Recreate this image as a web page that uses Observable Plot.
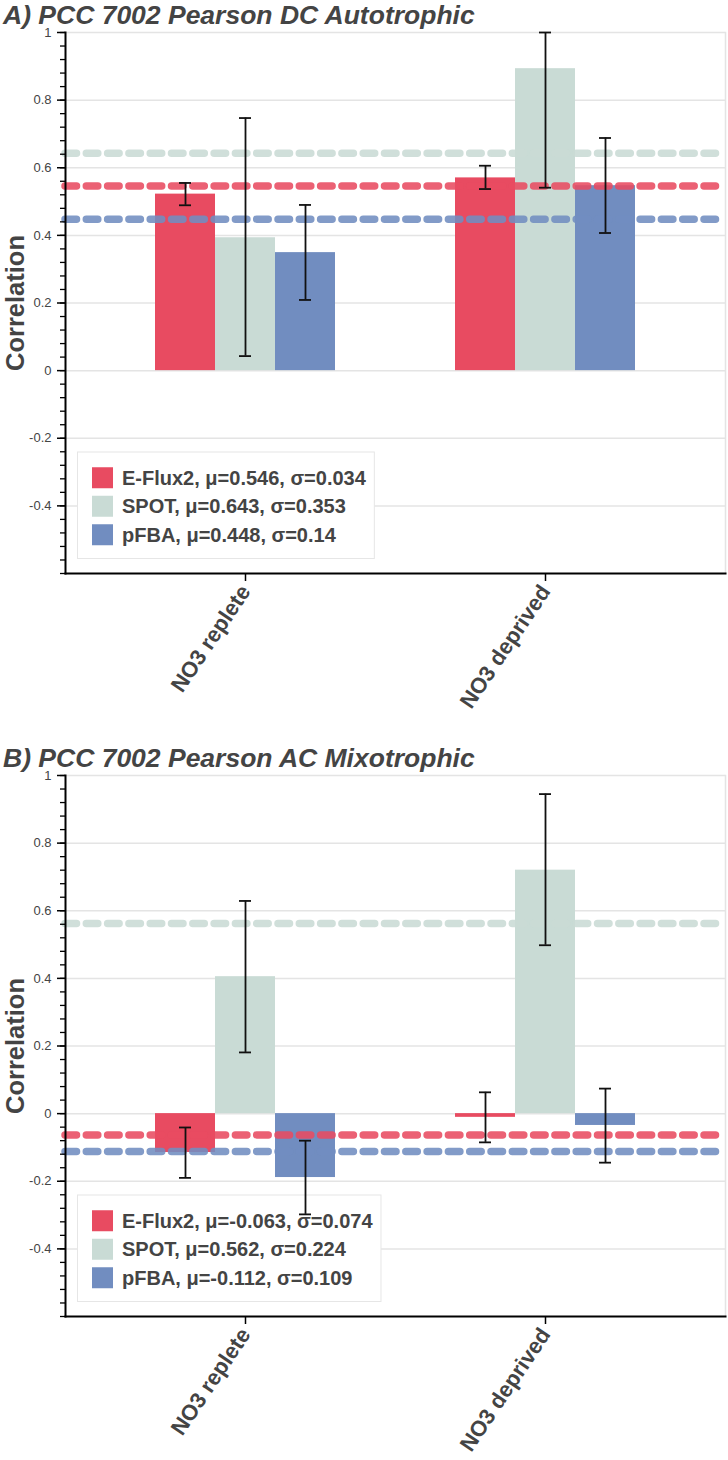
<!DOCTYPE html>
<html>
<head>
<meta charset="utf-8">
<script src="https://cdn.jsdelivr.net/npm/d3@7"></script>
<script src="https://cdn.jsdelivr.net/npm/@observablehq/plot@0.6"></script>
<style>
  html, body { margin: 0; padding: 0; background: #fff; }
  body { font-family: "Liberation Sans", Arial, Helvetica, sans-serif; width: 728px; }
  .panel { position: relative; width: 728px; }
  .title { position: absolute; left: 3px; top: 0; height: 30px; line-height: 30px;
           font-size: 26.5px; font-weight: bold; font-style: italic; color: #444; white-space: nowrap; z-index: 1; }
  .panel svg { display: block; overflow: visible; }
</style>
</head>
<body>
<div id="root"></div>
<script>
// ---------- shared categories / styling data ----------
const conditions = ["NO3 replete", "NO3 deprived"];
const methods = ["E-Flux2", "SPOT", "pFBA"];
const colors = ["#E84B61", "#C9DBD5", "#718DC0"];
const gapSlots = ["gap1", "gap2"];          // empty slots between the two groups
const yDomain = [-0.6, 1];
const yTicks = [-0.4, -0.2, 0, 0.2, 0.4, 0.6, 0.8, 1];
const yMinorStep = 0.04;

// ---------- Panel A : DC Autotrophic ----------
const titleA = "A) PCC 7002 Pearson DC Autotrophic";
const repleteA    = [0.522, 0.393, 0.349];
const repleteLoA  = [0.489, 0.043, 0.209];
const repleteHiA  = [0.555, 0.747, 0.490];
const deprivedA   = [0.570, 0.893, 0.547];
const deprivedLoA = [0.537, 0.541, 0.407];
const deprivedHiA = [0.606, 1.000, 0.688];
const meanA  = [0.546, 0.643, 0.448];
const sigmaA = [0.034, 0.353, 0.14];

// ---------- Panel B : AC Mixotrophic ----------
const titleB = "B) PCC 7002 Pearson AC Mixotrophic";
const repleteB    = [-0.115, 0.405, -0.189];
const repleteLoB  = [-0.190, 0.181, -0.298];
const repleteHiB  = [-0.041, 0.629, -0.080];
const deprivedB   = [-0.011, 0.720, -0.035];
const deprivedLoB = [-0.085, 0.498, -0.145];
const deprivedHiB = [0.063, 0.945, 0.074];
const meanB  = [-0.063, 0.562, -0.112];
const sigmaB = [0.074, 0.224, 0.109];

const key = (c, m) => `${c}|${m}`;
const xDomain = [
  ...methods.map(m => key(conditions[0], m)),
  ...gapSlots,
  ...methods.map(m => key(conditions[1], m))
];
const xTickKeys = conditions.map(c => key(c, methods[1]));   // group centres

function buildRows(cond, vals, lo, hi) {
  return methods.map((m, i) => ({k: key(cond, m), cond, method: m, value: vals[i], lo: lo[i], hi: hi[i]}));
}

const yMinor = d3.range(Math.round((yDomain[1] - yDomain[0]) / yMinorStep) + 1)
  .map(i => +(yDomain[0] + i * yMinorStep).toFixed(2));

const FONT = "'Liberation Sans', Arial, Helvetica, sans-serif";

// legend drawn inside the plot (boxed, bottom-left of the frame)
function legendMark(labels) {
  return (index, scales, values, dimensions) => {
    const {marginLeft, marginBottom, height} = dimensions;
    const ctx = document.createElement("canvas").getContext("2d");
    ctx.font = `bold 20px ${FONT}`;
    const tw = d3.max(labels, l => ctx.measureText(l).width);
    const rowH = 28.5, padTop = 11, padBottom = 9, padL = 14, padR = 8, sw = 21, gap = 9;
    const w = 2 + padL + sw + gap + tw + padR;
    const h = 2 + padTop + rowH * labels.length + padBottom;
    const x0 = marginLeft + 12, y0 = height - marginBottom - 14 - h;
    const g = d3.create("svg:g").attr("text-anchor", "start");
    g.append("rect").attr("x", x0 + 0.5).attr("y", y0 + 0.5).attr("width", w - 1).attr("height", h - 1)
      .attr("fill", "white").attr("stroke", "#e6e6e6");
    labels.forEach((l, i) => {
      const cy = y0 + 1 + padTop + rowH * i + rowH / 2;
      g.append("rect").attr("x", x0 + 1 + padL).attr("y", cy - sw / 2).attr("width", sw).attr("height", sw)
        .attr("fill", colors[i]);
      g.append("text").attr("x", x0 + 1 + padL + sw + gap).attr("y", cy).attr("dy", "0.35em")
        .attr("text-anchor", "start")
        .attr("font-size", 20).attr("font-weight", "bold").attr("fill", "#444").attr("font-family", FONT)
        .text(l);
    });
    return g.node();
  };
}

function panel({title, rows, means, sigmas, svgHeight, marginBottom}) {
  const div = document.createElement("div");
  div.className = "panel";
  const t = document.createElement("div");
  t.className = "title";
  t.textContent = title;

  const meanRows = methods.map((m, i) => ({method: m, mean: means[i]}));
  const labels = methods.map((m, i) => `${m}, μ=${means[i]}, σ=${sigmas[i]}`);

  const chart = Plot.plot({
    width: 728,
    height: svgHeight,
    marginLeft: 65,
    marginRight: 3,
    marginTop: 32,
    marginBottom,
    style: {fontFamily: FONT, fontSize: "13px", background: "white", overflow: "visible"},
    x: {domain: xDomain, paddingInner: 0, paddingOuter: 1.455, axis: null},
    y: {domain: yDomain, axis: null},
    color: {domain: methods, range: colors},
    marks: [
      Plot.ruleY(yTicks, {stroke: "#e4e4e4", strokeWidth: 1.5}),
      Plot.frame({anchor: "right", stroke: "#e4e4e4", strokeWidth: 1.5}),
      Plot.barY(rows, {x: "k", y: "value", fill: "method", insetLeft: 0, insetRight: 0}),
      Plot.ruleY(meanRows, {y: "mean", stroke: "method", strokeWidth: 7.5,
        strokeDasharray: "11.5 9.8", strokeLinecap: "round", strokeOpacity: 0.88}),
      legendMark(labels),
      Plot.ruleX(rows, {x: "k", y1: "lo", y2: "hi", stroke: "#111", strokeWidth: 1.8}),
      Plot.tickY(rows, {x: "k", y: "lo", stroke: "#111", strokeWidth: 1.8, insetLeft: 24, insetRight: 24}),
      Plot.tickY(rows, {x: "k", y: "hi", stroke: "#111", strokeWidth: 1.8, insetLeft: 24, insetRight: 24}),
      Plot.axisY(yMinor, {anchor: "left", tickSize: 5, tickFormat: () => "", label: null,
        stroke: "black", strokeWidth: 1.3}),
      Plot.axisY(yTicks, {anchor: "left", tickSize: 8, tickPadding: 6, tickFormat: d => String(d),
        label: null, stroke: "black", strokeWidth: 1.5, fill: "#444", fontSize: 13}),
      Plot.frame({anchor: "left", stroke: "black", strokeWidth: 2}),
      Plot.frame({anchor: "bottom", stroke: "black", strokeWidth: 2}),
      Plot.axisX(xTickKeys, {anchor: "bottom", tickFormat: k => k.split("|")[0], tickRotate: -56,
        tickSize: 8, tickPadding: 6, fontSize: 22, fontWeight: "bold", fill: "#444",
        stroke: "black", strokeWidth: 1.5, label: null}),
      Plot.text(["Correlation"], {frameAnchor: "left", textAnchor: "middle", text: d => d, dx: -50, rotate: -90,
        fontSize: 25.5, fontWeight: "bold", fill: "#444"})
    ]
  });
  div.appendChild(chart);
  div.appendChild(t);
  return div;
}

const root = document.getElementById("root");
root.appendChild(panel({
  title: titleA,
  rows: [...buildRows(conditions[0], repleteA, repleteLoA, repleteHiA),
         ...buildRows(conditions[1], deprivedA, deprivedLoA, deprivedHiA)],
  means: meanA, sigmas: sigmaA, svgHeight: 743, marginBottom: 170
}));
root.appendChild(panel({
  title: titleB,
  rows: [...buildRows(conditions[0], repleteB, repleteLoB, repleteHiB),
         ...buildRows(conditions[1], deprivedB, deprivedLoB, deprivedHiB)],
  means: meanB, sigmas: sigmaB, svgHeight: 717, marginBottom: 144
}));
</script>
</body>
</html>
